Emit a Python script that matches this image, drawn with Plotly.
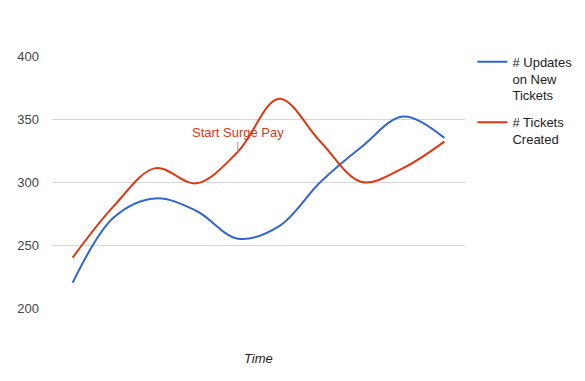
import plotly.graph_objects as go

x_idx = list(range(10))
updates = [220, 272, 287, 277, 255, 265, 300, 328, 352, 335]
tickets = [240, 281, 311, 299, 324, 366, 332, 300, 311, 332]
series_names = ["# Updates<br>on New<br>Tickets", "# Tickets<br>Created"]
colors = ["#3366cc", "#dc3912"]
y_ticks = [200, 250, 300, 350, 400]
annotation_idx = 4
annotation_text = "Start Surge Pay"

fig = go.Figure()
for i, (vals, name, col) in enumerate(zip([updates, tickets], series_names, colors)):
    fig.add_trace(go.Scatter(x=x_idx, y=vals, mode="lines", name=name, legendgroup=f"g{i}",
                             line=dict(color=col, width=2, shape="spline", smoothing=1.0)))

fig.add_annotation(x=x_idx[annotation_idx], y=tickets[annotation_idx], text=annotation_text,
                   showarrow=True, arrowhead=0, arrowwidth=1, arrowcolor="#999999",
                   ax=0, ay=-19, standoff=0,
                   font=dict(family="Liberation Sans, Arial", size=13, color="#dc3912"))

fig.add_annotation(xref="paper", yref="paper", x=0.5, y=0, yshift=-50, text="<i>Time</i>",
                   showarrow=False, yanchor="middle",
                   font=dict(family="Liberation Sans, Arial", size=13, color="#222222"))

fig.update_layout(
    width=585, height=381,
    margin=dict(l=52, r=120, t=56, b=73, autoexpand=False),
    paper_bgcolor="white", plot_bgcolor="white",
    font=dict(family="Liberation Sans, Arial", size=13, color="#444444"),
    showlegend=True,
    legend=dict(x=1.018, xanchor="left", y=1.037, yanchor="top", valign="top",
                font=dict(size=13, color="#222222"), tracegroupgap=7, itemwidth=30),
    xaxis=dict(range=[-0.5, 9.5], showticklabels=False, showgrid=False, zeroline=False,
               showline=False, ticks=""),
    yaxis=dict(range=[200, 400], tickvals=y_ticks, showgrid=True, gridcolor="#d6d6d6",
               gridwidth=1, zeroline=False, showline=False, ticks="",
               ticklabelstandoff=12, tickfont=dict(size=13, color="#444444")),
)

fig.write_html("out.html")
